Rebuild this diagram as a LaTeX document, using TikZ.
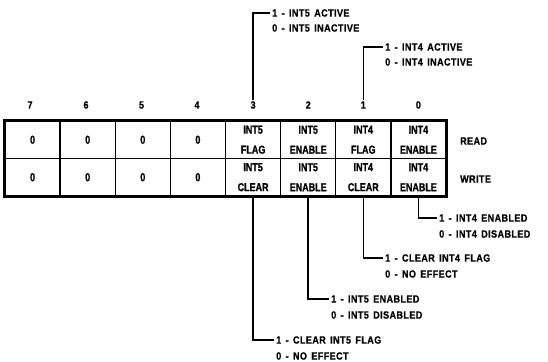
\documentclass[tikz,border=0pt]{standalone}
\usepackage{fontspec}
\setmainfont{Liberation Sans Bold}[FakeStretch=0.86,FakeBold=0.8,WordSpace=1.5,LetterSpace=4]
\newfontfamily\cellfont{Liberation Sans Bold}[FakeStretch=0.78,FakeBold=1]
\begin{document}
\begin{tikzpicture}[x=1pt,y=-1pt,
  font=\fontsize{10.5}{16}\selectfont,
  cell/.style={draw, line width=1.3pt, minimum width=55.125pt, minimum height=37.5pt, inner sep=0pt, align=center, font=\cellfont\fontsize{11.5}{20}\selectfont},
  num/.style={inner sep=1pt},
  note/.style={anchor=west, inner sep=2pt},
  lead/.style={line width=1.5pt}]
\useasboundingbox (0,0) rectangle (548,361);
% bit numbers
\node[num] (b7) at (30,105) {7};
\node[num] (b6) at (86,105) {6};
\node[num] (b5) at (141.5,105) {5};
\node[num] (b4) at (197,105) {4};
\node[num] (b3) at (253.1,105) {3};
\node[num] (b2) at (308.2,105) {2};
\node[num] (b1) at (363.3,105) {1};
\node[num] (b0) at (418.4,105) {0};
% read row
\node[cell] (r7) at (32.6,139.75) {0};
\node[cell] (r6) at (87.7,139.75) {0};
\node[cell] (r5) at (142.8,139.75) {0};
\node[cell] (r4) at (197.9,139.75) {0};
\node[cell] (r3) at (253.1,139.75) {INT5\\FLAG};
\node[cell] (r2) at (308.2,139.75) {INT5\\ENABLE};
\node[cell] (r1) at (363.3,139.75) {INT4\\FLAG};
\node[cell] (r0) at (418.4,139.75) {INT4\\ENABLE};
% write row
\node[cell] (w7) at (32.6,177.25) {0};
\node[cell] (w6) at (87.7,177.25) {0};
\node[cell] (w5) at (142.8,177.25) {0};
\node[cell] (w4) at (197.9,177.25) {0};
\node[cell] (w3) at (253.1,177.25) {INT5\\CLEAR};
\node[cell] (w2) at (308.2,177.25) {INT5\\ENABLE};
\node[cell] (w1) at (363.3,177.25) {INT4\\CLEAR};
\node[cell] (w0) at (418.4,177.25) {INT4\\ENABLE};
\draw[line width=2.6pt] (r7.north west) rectangle (w0.south east);
% row labels
\node[note] (rd) at (458,141) {READ};
\node[note] (wr) at (458,179) {WRITE};
% top notes
\node[note] (t3a) at (270,13) {1 - INT5 ACTIVE};
\node[note] (t3b) at (270,28) {0 - INT5 INACTIVE};
\node[note] (t1a) at (383,47) {1 - INT4 ACTIVE};
\node[note] (t1b) at (383,62) {0 - INT4 INACTIVE};
\draw[lead] (b3.north) |- (t3a.west);
\draw[lead] (b1.north) |- (t1a.west);
% bottom notes
\node[note] (e0a) at (437,218) {1 - INT4 ENABLED};
\node[note] (e0b) at (437,234) {0 - INT4 DISABLED};
\node[note] (e1a) at (383,258) {1 - CLEAR INT4 FLAG};
\node[note] (e1b) at (383,274) {0 - NO EFFECT};
\node[note] (e2a) at (329,299) {1 - INT5 ENABLED};
\node[note] (e2b) at (329,315) {0 - INT5 DISABLED};
\node[note] (e3a) at (274,340) {1 - CLEAR INT5 FLAG};
\node[note] (e3b) at (274,356) {0 - NO EFFECT};
\draw[lead] (w0.south) |- (e0a.west);
\draw[lead] (w1.south) |- (e1a.west);
\draw[lead] (w2.south) |- (e2a.west);
\draw[lead] (w3.south) |- (e3a.west);
\end{tikzpicture}
\end{document}
